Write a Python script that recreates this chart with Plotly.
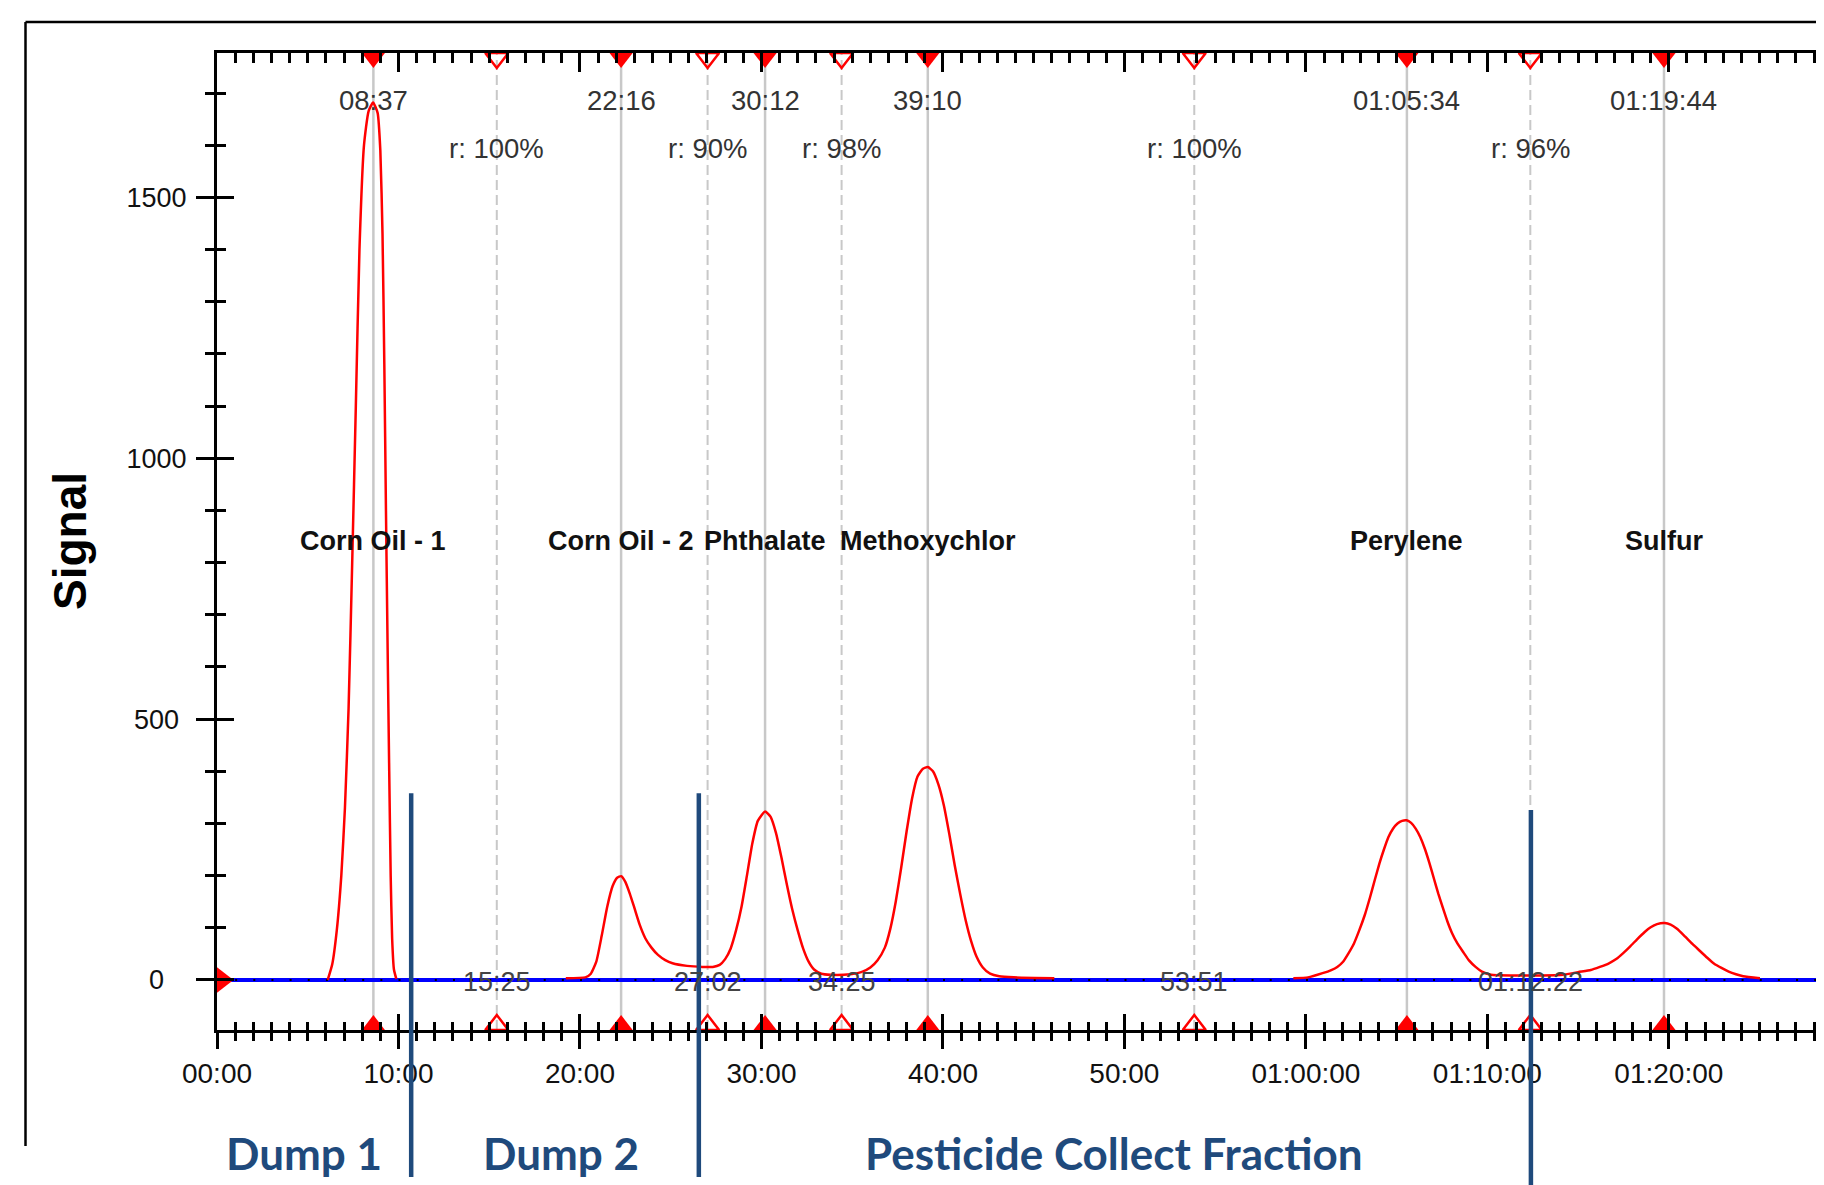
import plotly.graph_objects as go

# ------------------------------------------------------------------ data
# chromatogram trace (minutes, signal); None separates the recorded segments
trace_min = [
    6.10, 6.35, 6.60, 6.85, 7.05, 7.25, 7.45, 7.65, 7.85, 8.10, 8.35, 8.60,
    8.85, 9.00, 9.12, 9.22, 9.31, 9.40, 9.49, 9.57, 9.65, 9.75, 9.88,
    None,
    19.22, 20.30, 20.60, 20.90, 21.20, 21.50, 21.80, 22.05, 22.27, 22.50,
    22.75, 23.00, 23.30, 23.60, 23.94, 24.30, 24.70, 25.10, 25.90, 26.75,
    27.32, 27.70, 28.00, 28.30, 28.60, 28.90, 29.20, 29.50, 29.80, 30.20,
    30.50, 30.80, 31.10, 31.40, 31.70, 32.00, 32.30, 32.60, 32.90, 33.30,
    33.80, 34.90, 35.50, 36.00, 36.40, 36.80, 37.10, 37.40, 37.70, 38.00,
    38.30, 38.60, 38.90, 39.17, 39.45, 39.75, 40.05, 40.35, 40.65, 40.95,
    41.25, 41.55, 41.85, 42.20, 42.60, 43.10, 43.90, 46.14,
    None,
    59.31, 60.12, 60.92, 61.40, 61.73, 62.05, 62.33, 62.65, 62.94, 63.25,
    63.54, 63.80, 64.05, 64.30, 64.55, 64.80, 65.05, 65.30, 65.55, 65.80,
    66.05, 66.30, 66.55, 66.80, 67.05, 67.30, 67.55, 67.80, 68.05, 68.35,
    68.70, 69.00, 69.35, 69.70, 70.20, 71.40, 73.00, 74.20, 75.00, 75.70,
    76.20, 76.70, 77.10, 77.50, 77.86, 78.25, 78.67, 79.00, 79.35, 79.77,
    80.10, 80.45, 80.90, 81.30, 81.70, 82.10, 82.50, 82.90, 83.30, 83.70,
    84.10, 85.02,
]
trace_signal = [
    0, 30, 95, 200, 330, 520, 800, 1100, 1400, 1600, 1665, 1682,
    1662, 1590, 1430, 1180, 900, 640, 400, 200, 80, 20, 2,
    None,
    3.5, 5, 12, 35, 85, 140, 180, 196, 199, 188,
    165, 138, 105, 80, 62, 48, 38, 32, 27, 25,
    25, 29, 40, 60, 95, 140, 200, 262, 305, 323,
    313, 282, 235, 183, 135, 95, 60, 35, 20, 12,
    10, 11, 15, 24, 38, 62, 98, 150, 215, 285,
    348, 390, 405, 408, 400, 375, 335, 280, 220, 165,
    115, 75, 45, 24, 12, 7, 5, 3.5,
    None,
    3.5, 5, 13, 19, 25, 35, 50, 70, 95, 125,
    159, 192, 223, 250, 274, 290, 300, 305, 306, 301,
    290, 274, 252, 225, 195, 165, 138, 112, 90, 70,
    52, 37, 25, 16, 10, 8.6, 8.6, 10, 15, 19,
    25, 32, 40, 52, 64, 78, 92, 101, 107, 109,
    106, 98, 83, 69, 56, 43, 31, 23, 16, 11,
    7, 3.5,
]

peak_times = [8.617, 22.267, 30.200, 39.167, 65.567, 79.733]
peak_labels = ["08:37", "22:16", "30:12", "39:10", "01:05:34", "01:19:44"]
compound_names = ["Corn Oil - 1", "Corn Oil - 2", "Phthalate", "Methoxychlor", "Perylene", "Sulfur"]

boundary_times = [15.417, 27.033, 34.417, 53.850, 72.367]
boundary_labels = ["15:25", "27:02", "34:25", "53:51", "01:12:22"]
resolution_labels = ["r: 100%", "r: 90%", "r: 98%", "r: 100%", "r: 96%"]

fraction_cut_times = [10.70, 26.55, 72.40]
fraction_cut_top = [358, 358, 326]
fraction_names = ["Dump 1", "Dump 2", "Pesticide Collect Fraction"]
fraction_label_times = [4.82, 18.93, 49.43]

x_tick_vals = [0, 10, 20, 30, 40, 50, 60, 70, 80]
x_tick_text = ["00:00", "10:00", "20:00", "30:00", "40:00", "50:00",
               "01:00:00", "01:10:00", "01:20:00"]
y_tick_vals = [0, 500, 1000, 1500]
y_tick_text = ["0", "500", "1000", "1500"]

X_RANGE = [0, 88.55]
Y_RANGE = [-95.9, 1776.7]

# ------------------------------------------------------------------ layout geometry
OFF = 8                      # default page body margin of the html page
W, H = 1824 - OFF, 1185 - OFF
ML, MR, MT, MB = 209, 0, 45, 155
PW, PH = W - ML - MR, H - MT - MB
px_per_unit = PH / (Y_RANGE[1] - Y_RANGE[0])
px_per_min = PW / (X_RANGE[1] - X_RANGE[0])


def paper_x(px):             # px: viewport pixel
    return (px - OFF - ML) / PW


def paper_y(py):
    return (H - MB - (py - OFF)) / PH


def value_to_paper(v):
    return (v - Y_RANGE[0]) / (Y_RANGE[1] - Y_RANGE[0])


def centred_label(s, width=4):
    # pad on the right with no-break spaces (half a digit each) so labels look centred
    return s + "\u00a0" * (width - len(s))


FONT = "Liberation Sans, Arial, sans-serif"
RED = "#FF0000"
NAVY = "#1F4A7C"

fig = go.Figure()

# baseline (blue) and its dotted overlay
fig.add_trace(go.Scatter(x=X_RANGE, y=[0, 0], mode="lines",
                         line=dict(color="#0000FF", width=4),
                         hoverinfo="skip", showlegend=False))
fig.add_trace(go.Scatter(x=X_RANGE, y=[0, 0], mode="lines",
                         line=dict(color="black", width=2, dash="2px,16.15px"),
                         hoverinfo="skip", showlegend=False))

# chromatogram
fig.add_trace(go.Scatter(x=trace_min, y=trace_signal, mode="lines",
                         line=dict(color=RED, width=2.5, shape="spline", smoothing=0.5),
                         connectgaps=False, showlegend=False))

# triangle markers on the top and bottom axes
tri_off = 5.0 / px_per_unit
fig.add_trace(go.Scatter(x=peak_times, y=[Y_RANGE[1] - tri_off] * len(peak_times),
                         mode="markers", cliponaxis=False, showlegend=False,
                         marker=dict(symbol="triangle-down", size=20, color=RED)))
fig.add_trace(go.Scatter(x=boundary_times, y=[Y_RANGE[1] - tri_off] * len(boundary_times),
                         mode="markers", cliponaxis=False, showlegend=False,
                         marker=dict(symbol="triangle-down-open", size=20, color=RED,
                                     line=dict(width=2.5, color=RED))))
fig.add_trace(go.Scatter(x=peak_times, y=[Y_RANGE[0] + tri_off] * len(peak_times),
                         mode="markers", cliponaxis=False, showlegend=False,
                         marker=dict(symbol="triangle-up", size=20, color=RED)))
fig.add_trace(go.Scatter(x=boundary_times, y=[Y_RANGE[0] + tri_off] * len(boundary_times),
                         mode="markers", cliponaxis=False, showlegend=False,
                         marker=dict(symbol="triangle-up-open", size=20, color=RED,
                                     line=dict(width=2.5, color=RED))))
fig.add_trace(go.Scatter(x=[5.5 / px_per_min], y=[0], mode="markers", cliponaxis=False,
                         showlegend=False,
                         marker=dict(symbol="triangle-right", size=22, color=RED)))

# dummy traces so the overlay axes are drawn
for xa, ya in [("x2", "y"), ("x3", "y"), ("x", "y2"), ("x", "y3")]:
    fig.add_trace(go.Scatter(x=[None], y=[None], xaxis=xa, yaxis=ya,
                             showlegend=False, hoverinfo="skip"))

shapes = []
# peak / boundary vertical guide lines
for t in peak_times:
    shapes.append(dict(type="line", xref="x", yref="paper", x0=t, x1=t, y0=0, y1=1,
                       layer="below", line=dict(color="#C8C8C8", width=2.5)))
for t in boundary_times:
    shapes.append(dict(type="line", xref="x", yref="paper", x0=t, x1=t, y0=0, y1=1,
                       layer="below", line=dict(color="#C8C8C8", width=2, dash="10px,5px")))
# fraction cut lines
cut_bottoms = [paper_y(1177), paper_y(1177), paper_y(1192)]
for t, top, b in zip(fraction_cut_times, fraction_cut_top, cut_bottoms):
    shapes.append(dict(type="line", xref="x", yref="paper", x0=t, x1=t,
                       y0=b, y1=value_to_paper(top), layer="above",
                       line=dict(color=NAVY, width=4.5)))
# outer frame
shapes.append(dict(type="line", xref="paper", yref="paper",
                   x0=paper_x(25.5), x1=paper_x(1830), y0=paper_y(22), y1=paper_y(22),
                   line=dict(color="black", width=2.5)))
shapes.append(dict(type="line", xref="paper", yref="paper",
                   x0=paper_x(25.5), x1=paper_x(25.5), y0=paper_y(22), y1=paper_y(1146),
                   line=dict(color="black", width=2.5)))

annotations = []
center = dict(showarrow=False, xanchor="center", yanchor="middle")
for t, lab in zip(peak_times, peak_labels):
    annotations.append(dict(x=t, y=1685.6, xref="x", yref="y", text=lab,
                            font=dict(family=FONT, size=27.5, color="#333333"), **center))
for t, name in zip(peak_times, compound_names):
    annotations.append(dict(x=t, y=841.3, xref="x", yref="y", text="<b>" + name + "</b>",
                            font=dict(family=FONT, size=27, color="#111111"), **center))
for t, lab in zip(boundary_times, resolution_labels):
    annotations.append(dict(x=t, y=1593.5, xref="x", yref="y", text=lab,
                            font=dict(family=FONT, size=27.5, color="#333333"), **center))
for t, lab in zip(boundary_times, boundary_labels):
    annotations.append(dict(x=t, y=-3, xref="x", yref="y", text=lab,
                            font=dict(family=FONT, size=27, color="#444444"), **center))
for t, name in zip(fraction_label_times, fraction_names):
    annotations.append(dict(x=t, y=paper_y(1153), xref="x", yref="paper",
                            text="<b>" + name + "</b>",
                            font=dict(family="Lato, Carlito, sans-serif", size=44, color=NAVY),
                            **center))
annotations.append(dict(x=paper_x(70), y=paper_y(541), xref="paper", yref="paper",
                        text="<b>Signal</b>", textangle=-90,
                        font=dict(family=FONT, size=46, color="black"), **center))

tick_common = dict(tickcolor="black", tickwidth=2.5, showgrid=False, zeroline=False)

fig.update_layout(
    width=W, height=H,
    margin=dict(l=ML, r=MR, t=MT, b=MB, pad=0),
    paper_bgcolor="white", plot_bgcolor="white",
    showlegend=False,
    shapes=shapes, annotations=annotations,
    xaxis=dict(range=X_RANGE, side="bottom", anchor="y", showline=True, linecolor="black",
               linewidth=3, ticks="outside", ticklen=16, tickmode="array",
               tickvals=x_tick_vals, ticktext=x_tick_text, ticklabelstandoff=0,
               tickfont=dict(family=FONT, size=28, color="#111111"),
               minor=dict(tickmode="linear", tick0=0, dtick=1, ticks="outside",
                          ticklen=8, tickwidth=2.5, tickcolor="black", showgrid=False),
               **tick_common),
    xaxis3=dict(range=X_RANGE, side="bottom", anchor="y", overlaying="x", showline=False,
                ticks="inside", ticklen=16, tickmode="array", tickvals=x_tick_vals,
                showticklabels=False,
                minor=dict(tickmode="linear", tick0=0, dtick=1, ticks="inside",
                           ticklen=8, tickwidth=2.5, tickcolor="black", showgrid=False),
                **tick_common),
    xaxis2=dict(range=X_RANGE, side="top", anchor="y", overlaying="x", showline=True,
                linecolor="black", linewidth=3, ticks="inside", ticklen=19,
                tickmode="array", tickvals=x_tick_vals, showticklabels=False,
                minor=dict(tickmode="linear", tick0=0, dtick=1, ticks="inside",
                           ticklen=10, tickwidth=2.5, tickcolor="black", showgrid=False),
                **tick_common),
    yaxis=dict(range=Y_RANGE, side="left", anchor="x", showline=True, linecolor="black",
               linewidth=3, ticks="outside", ticklen=18, tickmode="array",
               tickvals=y_tick_vals,
               ticktext=[centred_label(s) for s in y_tick_text],
               ticklabelstandoff=4,
               tickfont=dict(family=FONT, size=27, color="#111111"),
               minor=dict(tickmode="linear", tick0=0, dtick=100, ticks="outside",
                          ticklen=9, tickwidth=2.5, tickcolor="black", showgrid=False),
               **tick_common),
    yaxis2=dict(range=Y_RANGE, side="left", anchor="x", overlaying="y", showline=False,
                ticks="inside", ticklen=17, tickmode="array", tickvals=y_tick_vals,
                showticklabels=False,
                minor=dict(tickmode="linear", tick0=0, dtick=100, ticks="inside",
                           ticklen=9, tickwidth=2.5, tickcolor="black", showgrid=False),
                **tick_common),
    yaxis3=dict(range=Y_RANGE, side="right", anchor="x", overlaying="y", showline=False,
                ticks="inside", ticklen=7, tickmode="array", tickvals=[500, 1000, 1500],
                showticklabels=False, **tick_common),
)

fig.write_html("out.html")
